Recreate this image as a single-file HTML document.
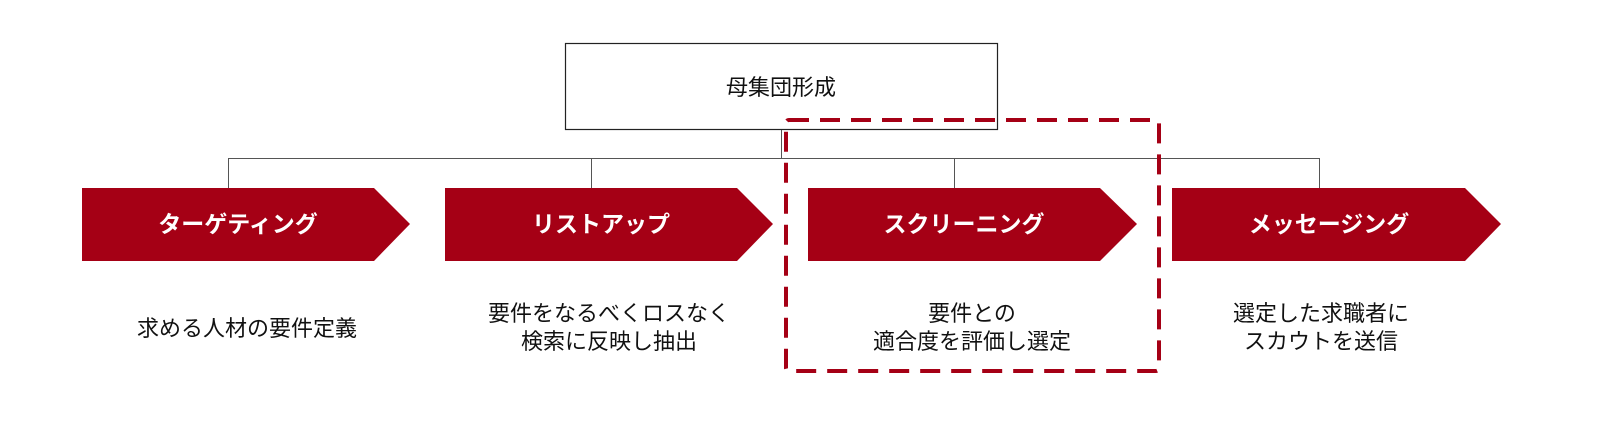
<!DOCTYPE html>
<html><head><meta charset="utf-8"><style>
body{margin:0;background:#fff;}
svg text{font-family:"Liberation Sans","Noto Sans CJK JP",sans-serif;}
</style></head><body>
<svg width="1598" height="426" viewBox="0 0 1598 426" xmlns="http://www.w3.org/2000/svg">
<rect x="565.5" y="43.5" width="432" height="86" fill="#fff" stroke="#222" stroke-width="1.2"/>
<text x="781" y="95" font-size="22" text-anchor="middle" fill="#111">母集団形成</text>
<g stroke="#555" stroke-width="1" fill="none">
<line x1="781.5" y1="130" x2="781.5" y2="158"/>
<line x1="228" y1="158.5" x2="1319" y2="158.5"/>
<line x1="228.5" y1="158" x2="228.5" y2="188"/>
<line x1="591.5" y1="158" x2="591.5" y2="188"/>
<line x1="954.5" y1="158" x2="954.5" y2="188"/>
<line x1="1319.5" y1="158" x2="1319.5" y2="188"/>
</g>
<g fill="#a50015">
<polygon points="82,188 374,188 410,224 374,261 82,261"/>
<polygon points="445,188 737,188 773,224 737,261 445,261"/>
<polygon points="808,188 1100,188 1137,224 1100,261 808,261"/>
<polygon points="1172,188 1465,188 1501,224 1465,261 1172,261"/>
</g>
<g fill="#fff" font-size="23" font-weight="bold" text-anchor="middle">
<text x="238" y="232">ターゲティング</text>
<text x="601" y="232">リストアップ</text>
<text x="964" y="232">スクリーニング</text>
<text x="1329" y="232">メッセージング</text>
</g>
<g fill="#111" font-size="22" text-anchor="middle">
<text x="247" y="336">求める人材の要件定義</text>
<text x="609" y="321">要件をなるべくロスなく</text>
<text x="609" y="349">検索に反映し抽出</text>
<text x="972" y="321">要件との</text>
<text x="972" y="349">適合度を評価し選定</text>
<text x="1321" y="321">選定した求職者に</text>
<text x="1321" y="349">スカウトを送信</text>
</g>
<rect x="786" y="120" width="373" height="251" rx="3" fill="none" stroke="#a50015" stroke-width="4" stroke-dasharray="20 11"/>
</svg>
</body></html>
